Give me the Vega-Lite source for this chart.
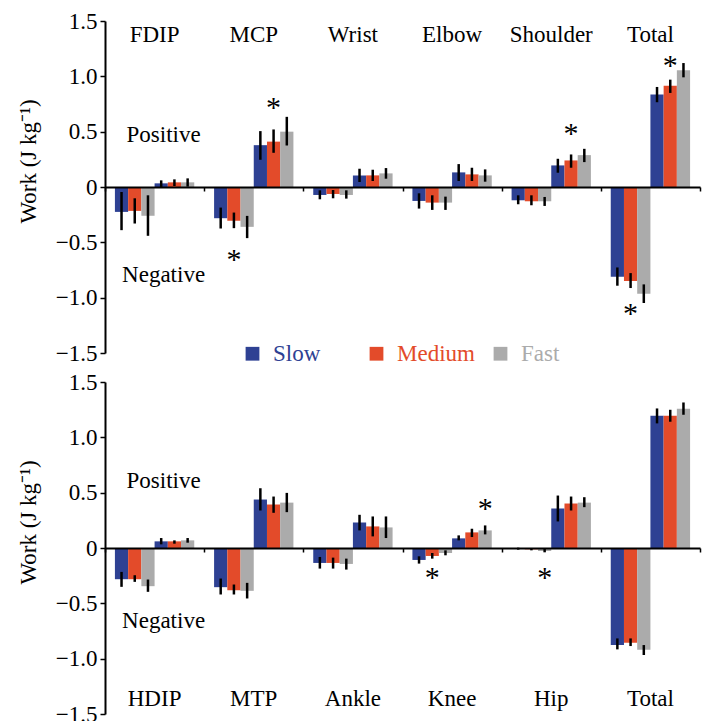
{
  "$schema": "https://vega.github.io/schema/vega-lite/v6.json",
  "autosize": {"type": "pad"},
  "padding": {"left": 17, "top": 10, "right": 2, "bottom": 2},
  "config": {
    "font": "Liberation Serif, Times New Roman, serif",
    "view": {"stroke": null},
    "text": {"font": "Liberation Serif, Times New Roman, serif"},
    "legend": {"labelFont": "Liberation Serif, Times New Roman, serif"},
    "style": {"guide-label": {"font": "Liberation Serif, Times New Roman, serif"}, "guide-title": {"font": "Liberation Serif, Times New Roman, serif"}},
    "axis": {"grid": false, "domainColor": "black", "tickColor": "black", "labelColor": "black", "titleColor": "black", "labelFont": "Liberation Serif, Times New Roman, serif", "titleFont": "Liberation Serif, Times New Roman, serif", "titleFontWeight": "normal"}
  },
  "datasets": {
    "upper": [
      {"joint": "FDIP", "bar": "neg Slow", "speed": "Slow", "value": -0.225, "lo": -0.39, "hi": -0.045},
      {"joint": "FDIP", "bar": "neg Medium", "speed": "Medium", "value": -0.216, "lo": -0.33, "hi": -0.102},
      {"joint": "FDIP", "bar": "neg Fast", "speed": "Fast", "value": -0.26, "lo": -0.441, "hi": -0.075},
      {"joint": "FDIP", "bar": "pos Slow", "speed": "Slow", "value": 0.033, "lo": 0.0, "hi": 0.06},
      {"joint": "FDIP", "bar": "pos Medium", "speed": "Medium", "value": 0.042, "lo": 0.009, "hi": 0.069},
      {"joint": "FDIP", "bar": "pos Fast", "speed": "Fast", "value": 0.042, "lo": 0.003, "hi": 0.078},
      {"joint": "MCP", "bar": "neg Slow", "speed": "Slow", "value": -0.282, "lo": -0.375, "hi": -0.186},
      {"joint": "MCP", "bar": "neg Medium", "speed": "Medium", "value": -0.306, "lo": -0.372, "hi": -0.231},
      {"joint": "MCP", "bar": "neg Fast", "speed": "Fast", "value": -0.36, "lo": -0.462, "hi": -0.261},
      {"joint": "MCP", "bar": "pos Slow", "speed": "Slow", "value": 0.378, "lo": 0.246, "hi": 0.505},
      {"joint": "MCP", "bar": "pos Medium", "speed": "Medium", "value": 0.41, "lo": 0.309, "hi": 0.52},
      {"joint": "MCP", "bar": "pos Fast", "speed": "Fast", "value": 0.5, "lo": 0.375, "hi": 0.634},
      {"joint": "Wrist", "bar": "neg Slow", "speed": "Slow", "value": -0.072, "lo": -0.111, "hi": -0.03},
      {"joint": "Wrist", "bar": "neg Medium", "speed": "Medium", "value": -0.063, "lo": -0.102, "hi": -0.027},
      {"joint": "Wrist", "bar": "neg Fast", "speed": "Fast", "value": -0.072, "lo": -0.105, "hi": -0.03},
      {"joint": "Wrist", "bar": "pos Slow", "speed": "Slow", "value": 0.105, "lo": 0.045, "hi": 0.165},
      {"joint": "Wrist", "bar": "pos Medium", "speed": "Medium", "value": 0.105, "lo": 0.054, "hi": 0.156},
      {"joint": "Wrist", "bar": "pos Fast", "speed": "Fast", "value": 0.123, "lo": 0.075, "hi": 0.171},
      {"joint": "Elbow", "bar": "neg Slow", "speed": "Slow", "value": -0.126, "lo": -0.195, "hi": -0.057},
      {"joint": "Elbow", "bar": "neg Medium", "speed": "Medium", "value": -0.141, "lo": -0.207, "hi": -0.075},
      {"joint": "Elbow", "bar": "neg Fast", "speed": "Fast", "value": -0.141, "lo": -0.207, "hi": -0.087},
      {"joint": "Elbow", "bar": "pos Slow", "speed": "Slow", "value": 0.132, "lo": 0.054, "hi": 0.207},
      {"joint": "Elbow", "bar": "pos Medium", "speed": "Medium", "value": 0.114, "lo": 0.054, "hi": 0.174},
      {"joint": "Elbow", "bar": "pos Fast", "speed": "Fast", "value": 0.105, "lo": 0.048, "hi": 0.159},
      {"joint": "Shoulder", "bar": "neg Slow", "speed": "Slow", "value": -0.12, "lo": -0.156, "hi": -0.075},
      {"joint": "Shoulder", "bar": "neg Medium", "speed": "Medium", "value": -0.129, "lo": -0.165, "hi": -0.075},
      {"joint": "Shoulder", "bar": "neg Fast", "speed": "Fast", "value": -0.129, "lo": -0.171, "hi": -0.09},
      {"joint": "Shoulder", "bar": "pos Slow", "speed": "Slow", "value": 0.195, "lo": 0.129, "hi": 0.255},
      {"joint": "Shoulder", "bar": "pos Medium", "speed": "Medium", "value": 0.24, "lo": 0.174, "hi": 0.294},
      {"joint": "Shoulder", "bar": "pos Fast", "speed": "Fast", "value": 0.288, "lo": 0.225, "hi": 0.345},
      {"joint": "Total", "bar": "neg Slow", "speed": "Slow", "value": -0.81, "lo": -0.892, "hi": -0.727},
      {"joint": "Total", "bar": "neg Medium", "speed": "Medium", "value": -0.85, "lo": -0.913, "hi": -0.778},
      {"joint": "Total", "bar": "neg Fast", "speed": "Fast", "value": -0.964, "lo": -1.048, "hi": -0.88},
      {"joint": "Total", "bar": "pos Slow", "speed": "Slow", "value": 0.835, "lo": 0.766, "hi": 0.904},
      {"joint": "Total", "bar": "pos Medium", "speed": "Medium", "value": 0.916, "lo": 0.85, "hi": 0.97},
      {"joint": "Total", "bar": "pos Fast", "speed": "Fast", "value": 1.054, "lo": 0.991, "hi": 1.12}
    ],
    "lower": [
      {"joint": "HDIP", "bar": "neg Slow", "speed": "Slow", "value": -0.282, "lo": -0.351, "hi": -0.216},
      {"joint": "HDIP", "bar": "neg Medium", "speed": "Medium", "value": -0.282, "lo": -0.306, "hi": -0.246},
      {"joint": "HDIP", "bar": "neg Fast", "speed": "Fast", "value": -0.345, "lo": -0.396, "hi": -0.285},
      {"joint": "HDIP", "bar": "pos Slow", "speed": "Slow", "value": 0.06, "lo": 0.033, "hi": 0.09},
      {"joint": "HDIP", "bar": "pos Medium", "speed": "Medium", "value": 0.06, "lo": 0.039, "hi": 0.069},
      {"joint": "HDIP", "bar": "pos Fast", "speed": "Fast", "value": 0.069, "lo": 0.048, "hi": 0.09},
      {"joint": "MTP", "bar": "neg Slow", "speed": "Slow", "value": -0.354, "lo": -0.42, "hi": -0.276},
      {"joint": "MTP", "bar": "neg Medium", "speed": "Medium", "value": -0.381, "lo": -0.42, "hi": -0.33},
      {"joint": "MTP", "bar": "neg Fast", "speed": "Fast", "value": -0.387, "lo": -0.456, "hi": -0.315},
      {"joint": "MTP", "bar": "pos Slow", "speed": "Slow", "value": 0.438, "lo": 0.339, "hi": 0.54},
      {"joint": "MTP", "bar": "pos Medium", "speed": "Medium", "value": 0.393, "lo": 0.318, "hi": 0.465},
      {"joint": "MTP", "bar": "pos Fast", "speed": "Fast", "value": 0.41, "lo": 0.324, "hi": 0.498},
      {"joint": "Ankle", "bar": "neg Slow", "speed": "Slow", "value": -0.135, "lo": -0.186, "hi": -0.081},
      {"joint": "Ankle", "bar": "neg Medium", "speed": "Medium", "value": -0.135, "lo": -0.186, "hi": -0.087},
      {"joint": "Ankle", "bar": "neg Fast", "speed": "Fast", "value": -0.144, "lo": -0.195, "hi": -0.096},
      {"joint": "Ankle", "bar": "pos Slow", "speed": "Slow", "value": 0.231, "lo": 0.159, "hi": 0.3},
      {"joint": "Ankle", "bar": "pos Medium", "speed": "Medium", "value": 0.195, "lo": 0.105, "hi": 0.285},
      {"joint": "Ankle", "bar": "pos Fast", "speed": "Fast", "value": 0.186, "lo": 0.09, "hi": 0.285},
      {"joint": "Knee", "bar": "neg Slow", "speed": "Slow", "value": -0.108, "lo": -0.141, "hi": -0.075},
      {"joint": "Knee", "bar": "neg Medium", "speed": "Medium", "value": -0.072, "lo": -0.096, "hi": -0.045},
      {"joint": "Knee", "bar": "neg Fast", "speed": "Fast", "value": -0.045, "lo": -0.066, "hi": -0.021},
      {"joint": "Knee", "bar": "pos Slow", "speed": "Slow", "value": 0.087, "lo": 0.069, "hi": 0.114},
      {"joint": "Knee", "bar": "pos Medium", "speed": "Medium", "value": 0.141, "lo": 0.099, "hi": 0.174},
      {"joint": "Knee", "bar": "pos Fast", "speed": "Fast", "value": 0.159, "lo": 0.123, "hi": 0.204},
      {"joint": "Hip", "bar": "neg Slow", "speed": "Slow", "value": -0.006, "lo": -0.015, "hi": 0.003},
      {"joint": "Hip", "bar": "neg Medium", "speed": "Medium", "value": -0.012, "lo": -0.021, "hi": -0.003},
      {"joint": "Hip", "bar": "neg Fast", "speed": "Fast", "value": -0.027, "lo": -0.039, "hi": -0.009},
      {"joint": "Hip", "bar": "pos Slow", "speed": "Slow", "value": 0.357, "lo": 0.24, "hi": 0.474},
      {"joint": "Hip", "bar": "pos Medium", "speed": "Medium", "value": 0.402, "lo": 0.339, "hi": 0.465},
      {"joint": "Hip", "bar": "pos Fast", "speed": "Fast", "value": 0.41, "lo": 0.369, "hi": 0.459},
      {"joint": "Total", "bar": "neg Slow", "speed": "Slow", "value": -0.877, "lo": -0.916, "hi": -0.817},
      {"joint": "Total", "bar": "neg Medium", "speed": "Medium", "value": -0.856, "lo": -0.886, "hi": -0.817},
      {"joint": "Total", "bar": "neg Fast", "speed": "Fast", "value": -0.92, "lo": -0.967, "hi": -0.877},
      {"joint": "Total", "bar": "pos Slow", "speed": "Slow", "value": 1.195, "lo": 1.126, "hi": 1.261},
      {"joint": "Total", "bar": "pos Medium", "speed": "Medium", "value": 1.195, "lo": 1.141, "hi": 1.249},
      {"joint": "Total", "bar": "pos Fast", "speed": "Fast", "value": 1.258, "lo": 1.204, "hi": 1.315}
    ]
  },
  "resolve": {"legend": {"color": "independent"}},
  "spacing": 5,
  "vconcat": [
    {
      "width": 595,
      "height": 332,
      "layer": [
        {
          "data": {"name": "upper"},
          "mark": {"type": "bar"},
          "encoding": {
            "x": {"field": "joint", "type": "nominal", "scale": {"domain": ["FDIP", "MCP", "Wrist", "Elbow", "Shoulder", "Total"], "paddingInner": 0, "paddingOuter": 0},
              "axis": {"title": null, "labels": false, "orient": "bottom", "offset": -166, "tickBand": "extent", "domainWidth": 2, "tickSize": 4, "tickWidth": 1.5, "zindex": 1}},
            "xOffset": {"field": "bar", "type": "nominal", "scale": {"domain": ["neg Slow", "neg Medium", "neg Fast", "pos Slow", "pos Medium", "pos Fast"], "paddingInner": 0, "paddingOuter": 0.75}},
            "y": {"field": "value", "type": "quantitative", "scale": {"domain": [-1.5, 1.5], "nice": false},
              "axis": {"title": "Work (J kg⁻¹)", "values": [-1.5, -1, -0.5, 0, 0.5, 1, 1.5], "labelExpr": "datum.value == 0 ? '0' : format(datum.value, '.1f')", "domainWidth": 2, "tickSize": 5, "tickWidth": 1.5, "labelFontSize": 23, "labelPadding": 3, "labelFont": "Liberation Serif, Times New Roman, serif", "titleFont": "Liberation Serif, Times New Roman, serif", "titleFontSize": 23, "titleX": -77, "titleY": 140, "titleAlign": "center", "titleBaseline": "middle"}},
            "color": {"field": "speed", "type": "nominal", "scale": {"domain": ["Slow", "Medium", "Fast"], "range": ["#2E4193", "#E34B2A", "#ABABAB"]},
              "legend": {"orient": "none", "legendX": 136, "legendY": 321, "direction": "horizontal", "title": null, "columns": 3, "gridAlign": "all", "symbolType": "square", "symbolSize": 190, "symbolStrokeWidth": 0, "symbolOpacity": 1, "labelFontSize": 23, "labelFont": "Liberation Serif, Times New Roman, serif", "labelOffset": 9, "columnPadding": 14, "padding": 0, "labelLimit": 200,
                "encode": {"labels": {"update": {"fill": {"signal": "scale('color', datum.value)"}, "font": {"value": "Liberation Serif, Times New Roman, serif"}}}}}}
          }
        },
        {
          "data": {"name": "upper"},
          "mark": {"type": "rule", "strokeWidth": 2.5, "color": "black"},
          "encoding": {
            "x": {"field": "joint", "type": "nominal", "scale": {"domain": ["FDIP", "MCP", "Wrist", "Elbow", "Shoulder", "Total"], "paddingInner": 0, "paddingOuter": 0}},
            "xOffset": {"field": "bar", "type": "nominal", "scale": {"domain": ["neg Slow", "neg Medium", "neg Fast", "pos Slow", "pos Medium", "pos Fast"], "paddingInner": 0, "paddingOuter": 0.75}},
            "y": {"field": "lo", "type": "quantitative"},
            "y2": {"field": "hi"}
          }
        },
        {
          "data": {"values": [{"joint": "FDIP"}, {"joint": "MCP"}, {"joint": "Wrist"}, {"joint": "Elbow"}, {"joint": "Shoulder"}, {"joint": "Total"}]},
          "mark": {"type": "text", "fontSize": 23, "baseline": "alphabetic", "color": "black"},
          "encoding": {
            "x": {"field": "joint", "type": "nominal"},
            "y": {"datum": 1.306, "type": "quantitative"},
            "text": {"field": "joint"}
          }
        },
        {
          "data": {"values": [{"joint": "FDIP", "label": "Positive", "y": 0.405}, {"joint": "FDIP", "label": "Negative", "y": -0.856}]},
          "mark": {"type": "text", "fontSize": 23, "baseline": "alphabetic", "color": "black", "dx": 9},
          "encoding": {
            "x": {"field": "joint", "type": "nominal"},
            "y": {"field": "y", "type": "quantitative"},
            "text": {"field": "label"}
          }
        },
        {
          "data": {"values": [
            {"joint": "MCP", "bar": "pos Medium", "y": 0.76},
            {"joint": "MCP", "bar": "neg Medium", "y": -0.61},
            {"joint": "Shoulder", "bar": "pos Medium", "y": 0.52},
            {"joint": "Total", "bar": "pos Medium", "y": 1.135},
            {"joint": "Total", "bar": "neg Medium", "y": -1.1}
          ]},
          "mark": {"type": "text", "fontSize": 30, "baseline": "alphabetic", "color": "black", "dy": 14, "text": "*"},
          "encoding": {
            "x": {"field": "joint", "type": "nominal"},
            "xOffset": {"field": "bar", "type": "nominal", "scale": {"domain": ["neg Slow", "neg Medium", "neg Fast", "pos Slow", "pos Medium", "pos Fast"], "paddingInner": 0, "paddingOuter": 0.75}},
            "y": {"field": "y", "type": "quantitative"}
          }
        }
      ]
    },
    {
      "width": 595,
      "height": 332,
      "layer": [
        {
          "data": {"name": "lower"},
          "mark": {"type": "bar"},
          "encoding": {
            "x": {"field": "joint", "type": "nominal", "scale": {"domain": ["HDIP", "MTP", "Ankle", "Knee", "Hip", "Total"], "paddingInner": 0, "paddingOuter": 0},
              "axis": {"title": null, "labels": false, "orient": "bottom", "offset": -166, "tickBand": "extent", "domainWidth": 2, "tickSize": 4, "tickWidth": 1.5, "zindex": 1}},
            "xOffset": {"field": "bar", "type": "nominal", "scale": {"domain": ["neg Slow", "neg Medium", "neg Fast", "pos Slow", "pos Medium", "pos Fast"], "paddingInner": 0, "paddingOuter": 0.75}},
            "y": {"field": "value", "type": "quantitative", "scale": {"domain": [-1.5, 1.5], "nice": false},
              "axis": {"title": "Work (J kg⁻¹)", "values": [-1.5, -1, -0.5, 0, 0.5, 1, 1.5], "labelExpr": "datum.value == 0 ? '0' : format(datum.value, '.1f')", "domainWidth": 2, "tickSize": 5, "tickWidth": 1.5, "labelFontSize": 23, "labelPadding": 3, "labelFont": "Liberation Serif, Times New Roman, serif", "titleFont": "Liberation Serif, Times New Roman, serif", "titleFontSize": 23, "titleX": -77, "titleY": 140, "titleAlign": "center", "titleBaseline": "middle"}},
            "color": {"field": "speed", "type": "nominal", "scale": {"domain": ["Slow", "Medium", "Fast"], "range": ["#2E4193", "#E34B2A", "#ABABAB"]}, "legend": null}
          }
        },
        {
          "data": {"name": "lower"},
          "mark": {"type": "rule", "strokeWidth": 2.5, "color": "black"},
          "encoding": {
            "x": {"field": "joint", "type": "nominal", "scale": {"domain": ["HDIP", "MTP", "Ankle", "Knee", "Hip", "Total"], "paddingInner": 0, "paddingOuter": 0}},
            "xOffset": {"field": "bar", "type": "nominal", "scale": {"domain": ["neg Slow", "neg Medium", "neg Fast", "pos Slow", "pos Medium", "pos Fast"], "paddingInner": 0, "paddingOuter": 0.75}},
            "y": {"field": "lo", "type": "quantitative"},
            "y2": {"field": "hi"}
          }
        },
        {
          "data": {"values": [{"joint": "HDIP"}, {"joint": "MTP"}, {"joint": "Ankle"}, {"joint": "Knee"}, {"joint": "Hip"}, {"joint": "Total"}]},
          "mark": {"type": "text", "fontSize": 23, "baseline": "alphabetic", "color": "black"},
          "encoding": {
            "x": {"field": "joint", "type": "nominal"},
            "y": {"datum": -1.432, "type": "quantitative"},
            "text": {"field": "joint"}
          }
        },
        {
          "data": {"values": [{"joint": "HDIP", "label": "Positive", "y": 0.54}, {"joint": "HDIP", "label": "Negative", "y": -0.72}]},
          "mark": {"type": "text", "fontSize": 23, "baseline": "alphabetic", "color": "black", "dx": 9},
          "encoding": {
            "x": {"field": "joint", "type": "nominal"},
            "y": {"field": "y", "type": "quantitative"},
            "text": {"field": "label"}
          }
        },
        {
          "data": {"values": [
            {"joint": "Knee", "bar": "neg Medium", "y": -0.225},
            {"joint": "Knee", "bar": "pos Fast", "y": 0.394},
            {"joint": "Hip", "bar": "neg Fast", "y": -0.225}
          ]},
          "mark": {"type": "text", "fontSize": 30, "baseline": "alphabetic", "color": "black", "dy": 14, "text": "*"},
          "encoding": {
            "x": {"field": "joint", "type": "nominal"},
            "xOffset": {"field": "bar", "type": "nominal", "scale": {"domain": ["neg Slow", "neg Medium", "neg Fast", "pos Slow", "pos Medium", "pos Fast"], "paddingInner": 0, "paddingOuter": 0.75}},
            "y": {"field": "y", "type": "quantitative"}
          }
        }
      ]
    }
  ]
}
